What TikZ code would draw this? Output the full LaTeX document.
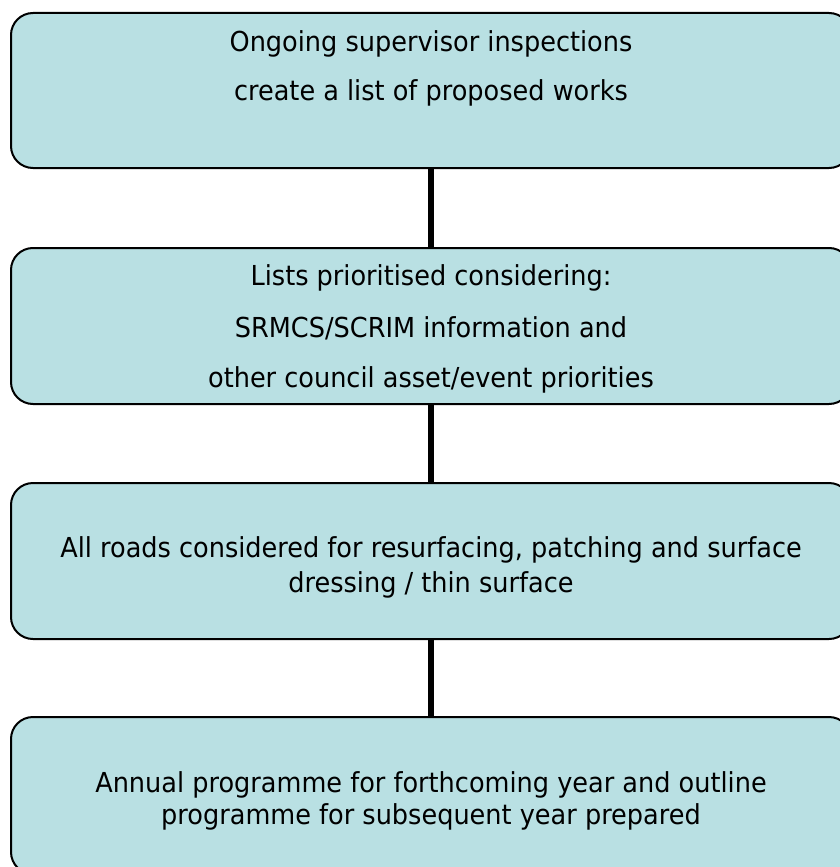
\documentclass[tikz,border=0pt]{standalone}
\usepackage{fontspec}
\setmainfont{DejaVu Sans}[FakeStretch=0.93]
\definecolor{boxfill}{RGB}{185,224,227}
\begin{document}
\begin{tikzpicture}[x=1pt,y=-1pt,
  stagebox/.style={draw=black, line width=2pt, fill=boxfill, rounded corners=22pt,
    minimum width=840pt, inner sep=0pt},
  link/.style={line width=6pt, draw=black},
  txt/.style={anchor=base, inner sep=0pt, font=\fontsize{27.5pt}{32pt}\selectfont}]
\useasboundingbox (0,0) rectangle (840,867);
\clip (0,0) rectangle (840,867);

% stage boxes
\node[stagebox, minimum height=155pt] (b1) at (431,90.5) {};
\node[stagebox, minimum height=156pt] (b2) at (431,326) {};
\node[stagebox, minimum height=156pt] (b3) at (431,561) {};
\node[stagebox, minimum height=157pt] (b4) at (431,795.5) {};

% connectors between stages
\draw[link] (b1.south) -- (b2.north);
\draw[link] (b2.south) -- (b3.north);
\draw[link] (b3.south) -- (b4.north);

% stage texts
\node[txt] (t1a) at (431,52) {Ongoing supervisor inspections};
\node[txt] (t1b) at (431,100) {create a list of proposed works};

\node[txt] (t2a) at (431,285) {Lists prioritised considering:};
\node[txt] (t2b) at (431,337) {SRMCS/SCRIM information and};
\node[txt] (t2c) at (431,387) {other council asset/event priorities};

\node[txt] (t3a) at (431,557) {All roads considered for resurfacing, patching and surface};
\node[txt] (t3b) at (431,592) {dressing / thin surface};

\node[txt] (t4a) at (431,792) {Annual programme for forthcoming year and outline};
\node[txt] (t4b) at (431,824) {programme for subsequent year prepared};
\end{tikzpicture}
\end{document}
